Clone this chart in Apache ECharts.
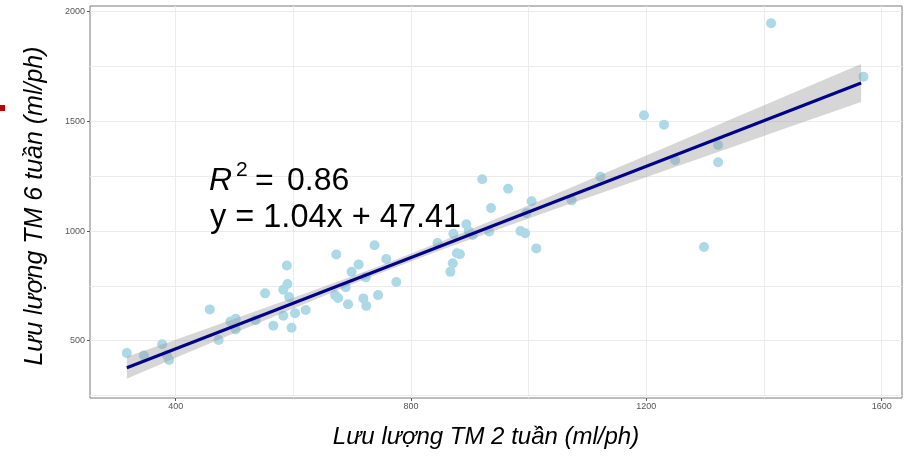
<!DOCTYPE html>
<html lang="vi">
  <head>
    <meta charset="UTF-8" />
    <title>Lưu lượng TM</title>
    <script src="https://cdn.jsdelivr.net/npm/echarts@6/dist/echarts.min.js"></script>
    <style>
      html, body { margin: 0; padding: 0; background: #fff; }
    </style>
  </head>
  <body>
    <div id="chart" style="width: 908px; height: 460px"></div>
  </body>
  <script>
    // trục
    const xTicks = [400, 800, 1200, 1600];
    const yTicks = [500, 1000, 1500, 2000];
    const xGrid = [400, 600, 800, 1000, 1200, 1400, 1600];
    const yGrid = [250, 500, 750, 1000, 1250, 1500, 1750, 2000];

    // lưu lượng 2 tuần / 6 tuần (ml/ph)
    const week2 = [317, 346, 377, 385, 389, 458, 473, 493, 502, 502, 536, 552, 566, 583, 589, 590,
      593, 583, 597, 603, 621, 673, 671, 676, 689, 693, 699, 711, 719, 724, 723, 738, 744, 758,
      775, 845, 867, 871, 878, 883, 872, 894, 898, 905, 921, 933, 936, 965, 986, 994, 996, 1005,
      1013, 1073, 1122, 1196, 1230, 1249, 1322, 1322, 1298, 1412, 1569];
    const week6 = [444, 433, 484, 435, 412, 643, 503, 588, 600, 552, 594, 716, 568, 733, 843, 759,
      699, 614, 559, 625, 640, 893, 708, 695, 744, 666, 814, 848, 693, 659, 789, 935, 708, 873,
      768, 946, 814, 853, 899, 894, 988, 1031, 1000, 982, 1236, 998, 1105, 1193, 1000, 990, 1081, 1136,
      921, 1139, 1248, 1528, 1485, 1323, 1392, 1314, 927, 1947, 1704];

    // đường hồi quy và khoảng tin cậy
    const fitX = [317, 1565];
    const fitY = [377, 1675];
    const bandX = [317, 400, 500, 600, 700, 762, 850, 950, 1050, 1150, 1250, 1350, 1450, 1565];
    const bandLo = [327, 422, 535, 647, 757, 823, 912, 1009, 1105, 1199, 1293, 1387, 1481, 1588];
    const bandHi = [427, 505, 600, 696, 794, 857, 951, 1062, 1174, 1288, 1402, 1516, 1630, 1762];

    const font = "'Liberation Sans', Arial, sans-serif";
    let chart = echarts.init(document.getElementById("chart"));

    let points = week2.map((x, i) => [x, week6[i]]);
    let fitLine = fitX.map((x, i) => [x, fitY[i]]);
    let plain = (v) => String(v);

    let option = {
      backgroundColor: "#fff",
      animation: false,
      grid: {
        left: 90,
        right: 6,
        top: 6,
        bottom: 62,
        show: true,
        borderColor: "#7a7a7a",
        borderWidth: 1,
      },
      xAxis: [
        {
          type: "value",
          min: 254.4,
          max: 1634.5,
          axisLine: { show: false },
          axisTick: { show: true, length: 3, lineStyle: { color: "#555" }, customValues: xTicks },
          axisLabel: { customValues: xTicks, formatter: plain, fontSize: 9, color: "#555", margin: 4, fontFamily: font },
          splitLine: { show: false },
        },
        {
          type: "value",
          min: 254.4,
          max: 1634.5,
          position: "bottom",
          axisLine: { show: false },
          axisTick: { show: false, customValues: xGrid },
          axisLabel: { show: false },
          splitLine: { show: true, lineStyle: { color: "#ebebeb", width: 1 } },
        },
      ],
      yAxis: [
        {
          type: "value",
          min: 239,
          max: 2026,
          axisLine: { show: false },
          axisTick: { show: true, length: 3, lineStyle: { color: "#555" }, customValues: yTicks },
          axisLabel: { customValues: yTicks, formatter: plain, fontSize: 9, color: "#555", margin: 5, fontFamily: font },
          splitLine: { show: false },
        },
        {
          type: "value",
          min: 239,
          max: 2026,
          position: "left",
          axisLine: { show: false },
          axisTick: { show: false, customValues: yGrid },
          axisLabel: { show: false },
          splitLine: { show: true, lineStyle: { color: "#ebebeb", width: 1 } },
        },
      ],
      series: [
        {
          type: "scatter",
          z: 2,
          data: points,
          symbolSize: 10,
          itemStyle: { color: "#add8e6", opacity: 1 },
        },
        {
          type: "custom",
          z: 3,
          silent: true,
          data: [[bandX[0], bandLo[0]]],
          renderItem: function (params, api) {
            let pts = [];
            for (let i = 0; i < bandX.length; i++) pts.push(api.coord([bandX[i], bandLo[i]]));
            for (let i = bandX.length - 1; i >= 0; i--) pts.push(api.coord([bandX[i], bandHi[i]]));
            return {
              type: "polygon",
              shape: { points: pts },
              style: { fill: "rgba(153,153,153,0.4)" },
            };
          },
        },
        {
          type: "line",
          z: 4,
          data: fitLine,
          showSymbol: false,
          lineStyle: { color: "#00008b", width: 3 },
        },
      ],
      graphic: [
        // vạch đỏ ở mép trái
        { type: "rect", z: 100, left: 0, top: 105, shape: { width: 5, height: 6 }, style: { fill: "#c00000" } },
        // tiêu đề trục
        {
          type: "text",
          z: 100,
          x: 35,
          y: 206,
          rotation: Math.PI / 2,
          style: {
            text: "Lưu lượng TM 6 tuần (ml/ph)",
            font: "italic 25px " + font,
            fill: "#000",
            align: "center",
            verticalAlign: "middle",
          },
        },
        {
          type: "text",
          z: 100,
          x: 486,
          y: 437,
          style: {
            text: "Lưu lượng TM 2 tuần (ml/ph)",
            font: "italic 24px " + font,
            fill: "#000",
            align: "center",
            verticalAlign: "middle",
          },
        },
        // R² và phương trình
        {
          type: "text",
          z: 100,
          x: 209,
          y: 181,
          style: { text: "R", font: "italic 32px " + font, fill: "#000", verticalAlign: "middle" },
        },
        {
          type: "text",
          z: 100,
          x: 236,
          y: 170,
          style: { text: "2", font: "21px " + font, fill: "#000", verticalAlign: "middle" },
        },
        {
          type: "text",
          z: 100,
          x: 255,
          y: 181,
          style: { text: "=", font: "32px " + font, fill: "#000", verticalAlign: "middle" },
        },
        {
          type: "text",
          z: 100,
          x: 287,
          y: 181,
          style: { text: "0.86", font: "32px " + font, fill: "#000", verticalAlign: "middle" },
        },
        {
          type: "text",
          z: 100,
          x: 210,
          y: 218,
          style: { text: "y = 1.04x + 47.41", font: "32.5px " + font, fill: "#000", verticalAlign: "middle" },
        },
      ],
    };
    chart.setOption(option);
  </script>
</html>
